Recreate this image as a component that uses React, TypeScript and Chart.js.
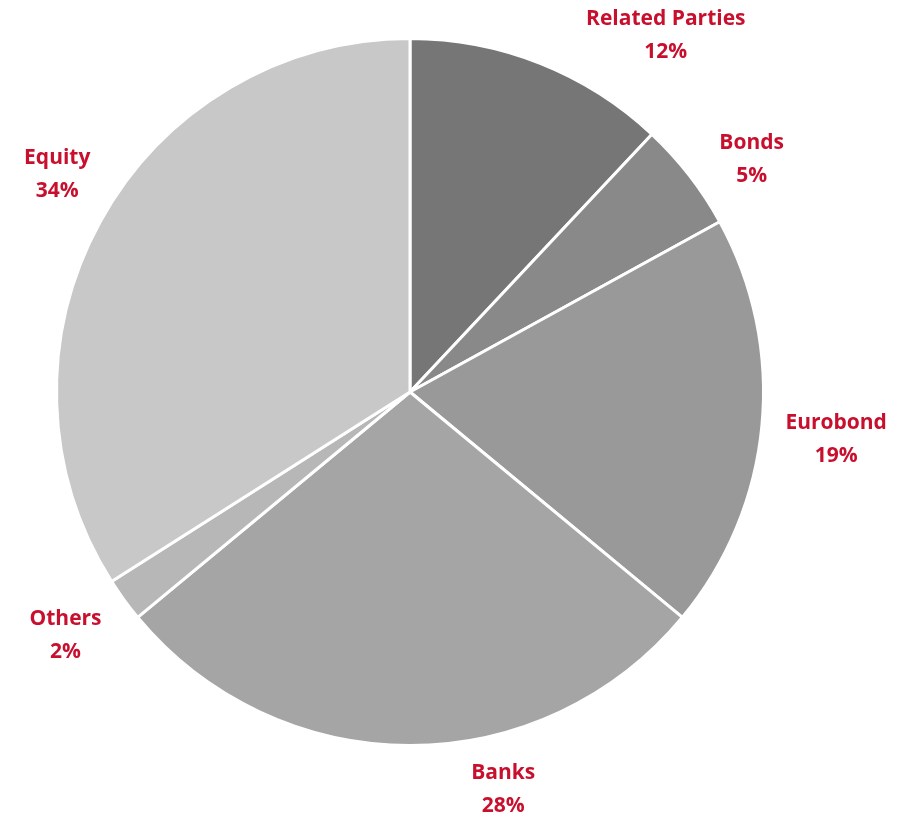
import React, { useEffect, useRef } from "react";
import { Chart, registerables } from "chart.js";

Chart.register(...registerables);

const categories = ["Related Parties", "Bonds", "Eurobond", "Banks", "Others", "Equity"];
const shares = [12, 5, 19, 28, 2, 34];
const sliceColors = ["#767676", "#898989", "#999999", "#a5a5a5", "#b7b7b7", "#c8c8c8"];
// label placement tweaks: angle shift (deg) from slice middle, distance beyond outer radius (px)
const labelAngleShift = [13.9, 3.3, 0.6, -13.3, 1.0, 3.1];
const labelGap = [87, 61, 75, 52, 67, 62];

const labelPlugin = {
  id: "sliceLabels",
  afterDatasetsDraw(chart: any) {
    const ctx = chart.ctx;
    const meta = chart.getDatasetMeta(0);
    ctx.save();
    ctx.fillStyle = "#c8102e";
    ctx.font = "bold 21px 'Open Sans', sans-serif";
    ctx.textAlign = "center";
    ctx.textBaseline = "middle";
    meta.data.forEach((arc: any, i: number) => {
      const p = arc.getProps(["x", "y", "startAngle", "endAngle", "outerRadius"], true);
      const mid = (p.startAngle + p.endAngle) / 2 + (labelAngleShift[i] * Math.PI) / 180;
      const r = p.outerRadius + labelGap[i];
      const cx = p.x + Math.cos(mid) * r;
      const cy = p.y + Math.sin(mid) * r;
      ctx.fillText(categories[i], cx, cy - 14);
      ctx.fillText(shares[i] + "%", cx, cy + 19);
    });
    ctx.restore();
  },
};

export default function App() {
  const ref = useRef<HTMLCanvasElement>(null);
  useEffect(() => {
    document.body.style.margin = "0";
    const chart = new Chart(ref.current!, {
      type: "pie",
      data: {
        labels: categories,
        datasets: [
          {
            data: shares,
            backgroundColor: sliceColors,
            borderColor: "#ffffff",
            borderWidth: 3,
          },
        ],
      },
      options: {
        animation: false,
        responsive: false,
        layout: { padding: { left: 55, right: 156, top: 37, bottom: 68 } },
        plugins: { legend: { display: false }, tooltip: { enabled: false } },
      },
      plugins: [labelPlugin],
    });
    return () => chart.destroy();
  }, []);
  return (
    <div style={{ width: 921, height: 815, background: "#fff" }}>
      <canvas ref={ref} width={921} height={815} style={{ width: 921, height: 815 }} />
    </div>
  );
}
